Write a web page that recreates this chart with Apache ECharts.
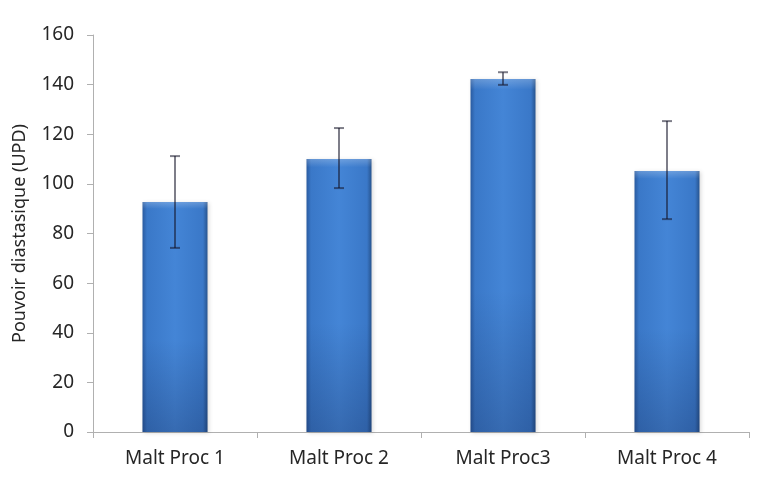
<!DOCTYPE html>
<html><head><meta charset="utf-8">
<script src="https://cdn.jsdelivr.net/npm/echarts@6/dist/echarts.min.js"></script>
<style>html,body{margin:0;padding:0;background:#fff}#c{width:765px;height:484px}</style>
</head><body><div id="c"></div>
<script>
const categories = ['Malt Proc 1', 'Malt Proc 2', 'Malt Proc3', 'Malt Proc 4'];
const values = [92.7, 110, 142.3, 105.2];
const errLow = [74.2, 98.3, 139.9, 85.8];
const errHigh = [111.2, 122.5, 145, 125.3];
const yTicks = [0, 20, 40, 60, 80, 100, 120, 140, 160];

const chart = echarts.init(document.getElementById('c'));
const FONT = 'Noto Sans';
const barGrad = new echarts.graphic.LinearGradient(0, 0, 1, 0, [
  {offset: 0, color: '#2a5ba0'},
  {offset: 0.07, color: '#3a78c8'},
  {offset: 0.5, color: '#4485d6'},
  {offset: 0.93, color: '#3a78c8'},
  {offset: 1, color: '#27548f'}
]);
const shade = new echarts.graphic.LinearGradient(0, 0, 0, 1, [
  {offset: 0, color: 'rgba(255,255,255,0.22)'},
  {offset: 0.03, color: 'rgba(255,255,255,0)'},
  {offset: 0.6, color: 'rgba(0,0,30,0)'},
  {offset: 1, color: 'rgba(0,0,30,0.2)'}
]);

chart.setOption({
  animation: false,
  grid: {left: 93, right: 16, top: 35, bottom: 52, containLabel: false, outerBoundsMode: 'none'},
  xAxis: {
    type: 'category', data: categories,
    axisLine: {lineStyle: {color: '#b0b0b0', width: 1}},
    axisTick: {show: true, length: 6, lineStyle: {color: '#b0b0b0'}},
    axisLabel: {color: '#262626', fontFamily: FONT, fontSize: 19, margin: 17}
  },
  yAxis: {
    type: 'value', min: yTicks[0], max: yTicks[yTicks.length - 1], interval: 20,
    name: 'Pouvoir diastasique (UPD)', nameLocation: 'middle', nameGap: 64, nameRotate: 90,
    nameTextStyle: {color: '#262626', fontFamily: FONT, fontSize: 18},
    axisLine: {show: true, lineStyle: {color: '#b0b0b0', width: 1}},
    axisTick: {show: true, length: 6, lineStyle: {color: '#b0b0b0'}},
    splitLine: {show: false},
    axisLabel: {color: '#262626', fontFamily: FONT, fontSize: 19, margin: 19}
  },
  series: [
    {
      type: 'bar', data: values, barWidth: 65,
      itemStyle: {color: barGrad, shadowColor: 'rgba(0,0,0,0.15)', shadowBlur: 4, shadowOffsetX: 1, shadowOffsetY: 1}
    },
    {
      type: 'bar', data: values, barWidth: 65, barGap: '-100%',
      itemStyle: {color: shade}, z: 3
    },
    {
      type: 'custom', z: 5,
      data: categories.map((c, i) => [i, errLow[i], errHigh[i]]),
      renderItem: function (params, api) {
        const lo = api.coord([api.value(0), api.value(1)]);
        const hi = api.coord([api.value(0), api.value(2)]);
        const hw = 5;
        const st = {stroke: 'rgba(20,20,40,0.55)', lineWidth: 2};
        return {type: 'group', children: [
          {type: 'line', shape: {x1: hi[0], y1: hi[1], x2: lo[0], y2: lo[1]}, style: st},
          {type: 'line', shape: {x1: hi[0] - hw, y1: hi[1], x2: hi[0] + hw, y2: hi[1]}, style: st},
          {type: 'line', shape: {x1: lo[0] - hw, y1: lo[1], x2: lo[0] + hw, y2: lo[1]}, style: st}
        ]};
      }
    }
  ]
});
</script></body></html>
